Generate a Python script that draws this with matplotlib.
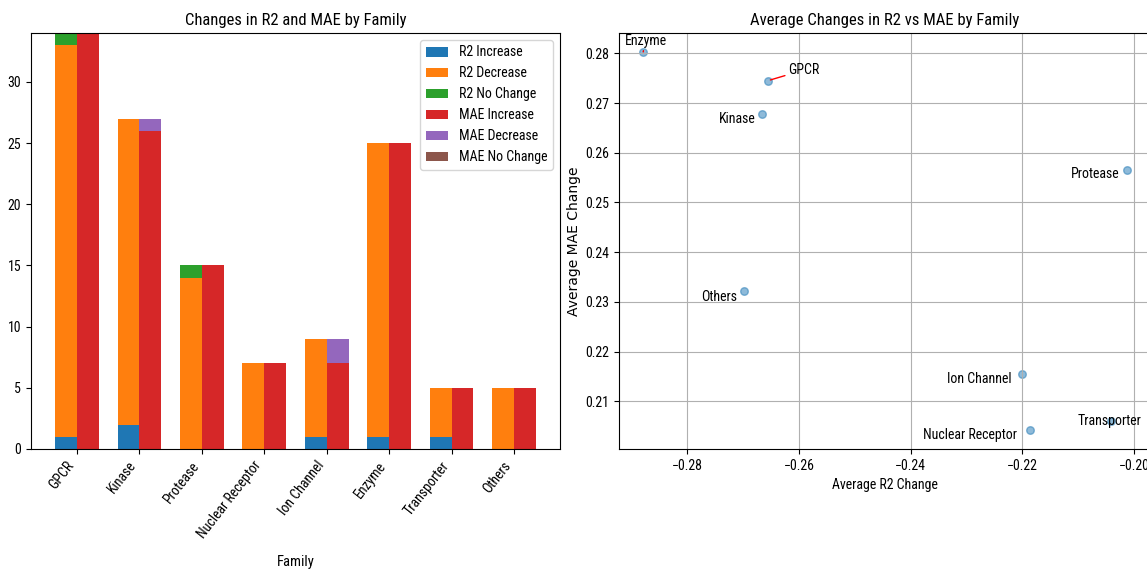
import matplotlib
matplotlib.use("Agg")
import matplotlib.pyplot as plt
import numpy as np
from matplotlib import font_manager

families = ["GPCR", "Kinase", "Protease", "Nuclear Receptor", "Ion Channel",
            "Enzyme", "Transporter", "Others"]
r2_increase = [1, 2, 0, 0, 1, 1, 1, 0]
r2_decrease = [32, 25, 14, 7, 8, 24, 4, 5]
r2_nochange = [1, 0, 1, 0, 0, 0, 0, 0]
mae_increase = [34, 26, 15, 7, 7, 25, 5, 5]
mae_decrease = [0, 1, 0, 0, 2, 0, 0, 0]
mae_nochange = [0, 0, 0, 0, 0, 0, 0, 0]

avg_r2_change = [-0.2656, -0.2667, -0.2013, -0.2187, -0.2201, -0.2879, -0.2042, -0.2699]
avg_mae_change = [0.2745, 0.2679, 0.2566, 0.2042, 0.2155, 0.2803, 0.2060, 0.2322]

names = {f.name for f in font_manager.fontManager.ttflist}
NARROW = 'DejaVu Sans'
for cand in ['Roboto Condensed', 'Fira Sans Condensed', 'PT Sans Narrow',
             'Archivo Narrow', 'Encode Sans Semi Condensed']:
    if cand in names:
        NARROW = cand
        break
plt.rcParams['font.family'] = [NARROW, 'DejaVu Sans']

W, H = 1147, 569
fig = plt.figure(figsize=(W / 100, H / 100), dpi=100)
ax1 = fig.add_axes([31 / W, 1 - 449 / H, (560 - 31) / W, (449 - 33) / H])
ax2 = fig.add_axes([619 / W, 1 - 449 / H, (1151 - 619) / W, (449 - 33) / H])

x = np.arange(len(families))
w = 0.35
r2i = np.array(r2_increase); r2d = np.array(r2_decrease); r2n = np.array(r2_nochange)
mi = np.array(mae_increase); md = np.array(mae_decrease); mn = np.array(mae_nochange)
ax1.bar(x - w / 2, r2i, w, color='C0', label='R2 Increase')
ax1.bar(x - w / 2, r2d, w, bottom=r2i, color='C1', label='R2 Decrease')
ax1.bar(x - w / 2, r2n, w, bottom=r2i + r2d, color='C2', label='R2 No Change')
ax1.bar(x + w / 2, mi, w, color='C3', label='MAE Increase')
ax1.bar(x + w / 2, md, w, bottom=mi, color='C4', label='MAE Decrease')
ax1.bar(x + w / 2, mn, w, bottom=mi + md, color='C5', label='MAE No Change')
ax1.set_ylim(0, 34)
ax1.set_xticks(x)
ax1.set_xticklabels(families, rotation=52, ha='right', fontsize=10)
ax1.set_xlabel('Family', fontsize=10.5)
ax1.xaxis.set_label_coords(0.5, -0.2716)
ax1.xaxis.label.set_va('center')
ax1.set_title('Changes in R2 and MAE by Family', fontsize=12)
ax1.legend(loc='upper right', fontsize=10, handlelength=1.6)
ax1.tick_params(axis='y', labelsize=10)

ax2.scatter(avg_r2_change, avg_mae_change, color='C0', alpha=0.5, s=30)
ax2.grid(True)
ax2.set_title('Average Changes in R2 vs MAE by Family', fontsize=12)
ax2.set_xlabel('Average R2 Change', fontsize=10)
ax2.set_ylabel('Average MAE Change', fontsize=10, family='DejaVu Sans')
ax2.yaxis.set_label_coords(-0.0714, 0.5)
ax2.tick_params(labelsize=10)

offsets = {
    "GPCR": (20, 10.6, 'left', 'center', True),
    "Kinase": (-6.3, -5.3, 'right', 'center', False),
    "Protease": (-7.4, -4.7, 'right', 'center', False),
    "Nuclear Receptor": (-13, -4.6, 'right', 'center', False),
    "Ion Channel": (-10, -4.6, 'right', 'center', False),
    "Enzyme": (2.5, 11, 'center', 'center', True),
    "Transporter": (-0.7, 0.4, 'center', 'center', False),
    "Others": (-6.3, -6, 'right', 'center', False),
}
for name, xv, yv in zip(families, avg_r2_change, avg_mae_change):
    dx, dy, ha, va, arrow = offsets[name]
    kw = {}
    if arrow:
        kw['arrowprops'] = dict(arrowstyle='-', color='red', lw=1, shrinkA=0, shrinkB=2)
    ax2.annotate(name, (xv, yv), xytext=(dx, dy), textcoords='offset pixels',
                 ha=ha, va=va, fontsize=10, **kw)

fig.savefig('out.png', dpi=100)
